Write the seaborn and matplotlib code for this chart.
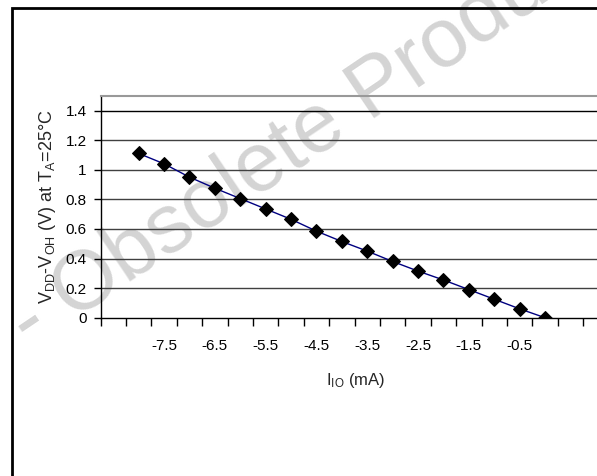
import matplotlib
matplotlib.use("Agg")
import matplotlib.pyplot as plt
import seaborn as sns
import pandas as pd
import numpy as np
from matplotlib.patches import Rectangle

# ---- data ----
current_ma = [-8.0, -7.5, -7.0, -6.5, -6.0, -5.5, -5.0, -4.5, -4.0,
              -3.5, -3.0, -2.5, -2.0, -1.5, -1.0, -0.5, 0.0]
vdd_minus_voh = [1.11, 1.04, 0.95, 0.875, 0.805, 0.735, 0.665, 0.585, 0.515,
                 0.45, 0.38, 0.315, 0.255, 0.19, 0.125, 0.06, 0.0]
x_tick_values = [-7.5, -6.5, -5.5, -4.5, -3.5, -2.5, -1.5, -0.5]
x_tick_labels = ["-7.5", "-6.5", "-5.5", "-4.5", "-3.5", "-2.5", "-1.5", "-0.5"]
y_ticks = [0, 0.2, 0.4, 0.6, 0.8, 1.0, 1.2, 1.4]
y_tick_labels = ["0", "0.2", "0.4", "0.6", "0.8", "1", "1.2", "1.4"]

df = pd.DataFrame({"I_IO": current_ma, "V": vdd_minus_voh})

sns.set_style("white")
plt.rcParams["font.family"] = ["Liberation Sans", "DejaVu Sans"]
plt.rcParams["mathtext.fontset"] = "custom"
plt.rcParams["mathtext.rm"] = "Liberation Sans"
plt.rcParams["mathtext.it"] = "Liberation Sans:italic"
plt.rcParams["mathtext.bf"] = "Liberation Sans:bold"

W, H = 597, 476
fig = plt.figure(figsize=(W / 100, H / 100), dpi=100)
fig.patch.set_facecolor("white")

# watermark (behind the chart)
fig.text(-24 / W, 1 - 386 / H, "y - Obsolete Product", fontsize=60, color="#d4d4d4",
         rotation=34, rotation_mode="anchor", ha="left", va="baseline", zorder=0)

x_left_px, x_right_px = 100.5, 610.0
left, bottom, top = x_left_px / W, 1 - 317.7 / H, 1 - 95.7 / H
ax = fig.add_axes([left, bottom, (x_right_px - x_left_px) / W, top - bottom])
ax.set_zorder(2)
ax.patch.set_alpha(0)

# gridlines
for yv in y_ticks[1:]:
    ax.axhline(yv, color="black" if yv == 1.4 else "#404040", lw=1.0, zorder=1)

sns.lineplot(data=df, x="I_IO", y="V", ax=ax, color="#000080", lw=1.0,
             marker="D", markersize=7, markerfacecolor="black",
             markeredgecolor="black", zorder=3)

ax.set_xlim(-8.75, -8.75 + (x_right_px - x_left_px) / 50.8)
ax.set_ylim(0, 1.5)

ax.set_xticks(x_tick_values)
ax.set_xticklabels(x_tick_labels)
ax.set_xticks(np.arange(-8.75, 1.3, 0.5), minor=True)
ax.tick_params(axis="x", which="major", length=0, pad=15, labelsize=11, colors="black")
ax.tick_params(axis="x", which="minor", length=6, width=1, direction="out",
               bottom=True, color="black")
ax.set_yticks(y_ticks)
ax.set_yticklabels(y_tick_labels)
ax.tick_params(axis="y", length=5, width=1, direction="out", left=True,
               labelsize=11, pad=5, colors="black")

for side in ["left", "bottom"]:
    ax.spines[side].set_color("black")
    ax.spines[side].set_linewidth(1.0)
ax.spines["top"].set_color("#999999")
ax.spines["top"].set_linewidth(1.5)
ax.spines["right"].set_visible(False)

ax.set_xlabel(r"I$_\mathrm{IO}$ (mA)", fontsize=12)
ax.xaxis.set_label_coords(0.5, ((1 - 381 / H) - bottom) / (top - bottom))
ax.xaxis.label.set_va("center")
ax.set_ylabel(r"V$_\mathrm{DD}$-V$_\mathrm{OH}$ (V) at T$_\mathrm{A}$=25°C", fontsize=13)
ax.yaxis.set_label_coords((48 - x_left_px) / (x_right_px - x_left_px), 0.5)
ax.yaxis.label.set_va("center")

# outer frame
fig.add_artist(Rectangle((11.5 / W, -0.1), 1.2, (1 - 7.5 / H) + 0.1,
                         transform=fig.transFigure, fill=False,
                         edgecolor="black", lw=2.0, clip_on=False))

fig.savefig("out.png", dpi=100)
